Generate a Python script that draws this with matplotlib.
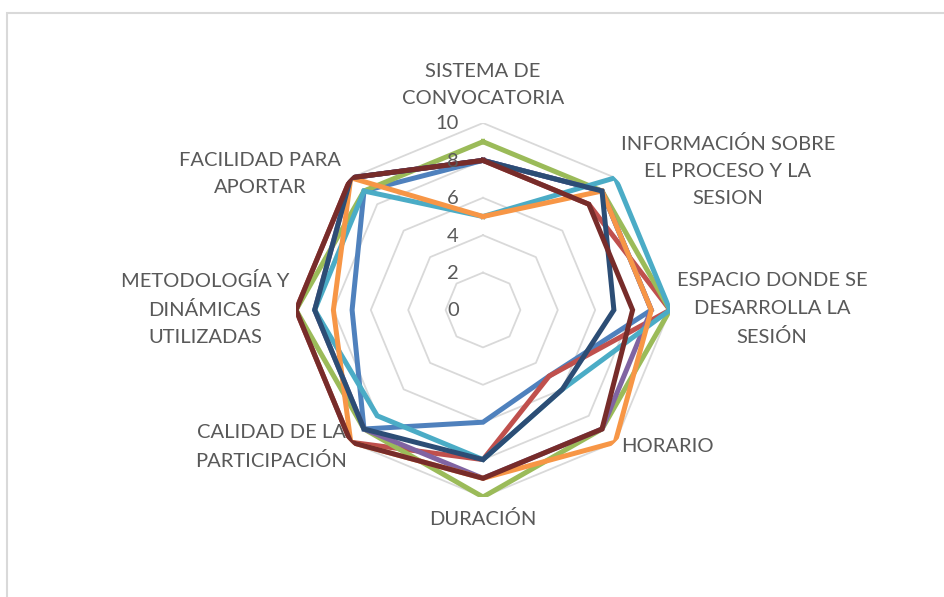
import numpy as np
import matplotlib.pyplot as plt
from matplotlib.patches import Rectangle

# categories clockwise from the top
categorias = ["SISTEMA DE\nCONVOCATORIA", "INFORMACIÓN SOBRE\nEL PROCESO Y LA\nSESION",
              "ESPACIO DONDE SE\nDESARROLLA LA\nSESIÓN", "HORARIO", "DURACIÓN",
              "CALIDAD DE LA\nPARTICIPACIÓN", "METODOLOGÍA Y\nDINÁMICAS\nUTILIZADAS",
              "FACILIDAD PARA\nAPORTAR"]

serie1 = [8, 9, 9, 5, 6, 9, 7, 9]
serie2 = [8, 8, 10, 5, 8, 10, 10, 10]
serie3 = [9, 9, 10, 9, 10, 9, 10, 9]
serie4 = [8, 9, 9, 9, 9, 9, 9, 10]
serie5 = [5, 10, 10, 6, 8, 8, 9, 9]
serie6 = [5, 9, 9, 10, 9, 10, 8, 10]
serie7 = [8, 9, 7, 6, 8, 9, 9, 10]
serie8 = [8, 8, 8, 9, 9, 10, 10, 10]
series = [serie1, serie2, serie3, serie4, serie5, serie6, serie7, serie8]
colores = ["#4F81BD", "#C0504D", "#9BBB59", "#8064A2", "#4BACC6", "#F79646", "#2C4D75", "#772C2A"]

escala = [0, 2, 4, 6, 8, 10]

plt.rcParams["font.family"] = ["Lato", "DejaVu Sans"]
gris = "#595959"

W, H = 945, 597
fig = plt.figure(figsize=(W / 100, H / 100), dpi=100)

# light frame around the chart area
fig.patches.append(Rectangle((7 / W, -0.1), 1.2, 1.1 - 12.5 / H, transform=fig.transFigure,
                             fill=False, edgecolor="#D9D9D9", linewidth=1.5))

cx, cy, R = 483, 310, 187
ax = fig.add_axes([(cx - R) / W, 1 - (cy + R) / H, 2 * R / W, 2 * R / H], projection="polar")
ax.set_theta_offset(np.pi / 2)
ax.set_theta_direction(-1)
ax.set_ylim(0, 10)
ax.grid(False)
ax.spines["polar"].set_visible(False)
ax.set_xticks([])
ax.set_yticks([])
ax.patch.set_alpha(0)

n = len(categorias)
ang = np.linspace(0, 2 * np.pi, n, endpoint=False)
ang_c = np.append(ang, ang[0])

# octagonal gridlines
for v in escala[1:]:
    ax.plot(ang_c, [v] * (n + 1), color="#D9D9D9", lw=1.3, zorder=1)

for vals, c in zip(series, colores):
    ax.plot(ang_c, vals + vals[:1], color=c, lw=3.6, solid_joinstyle="miter", zorder=3)

# value labels along the top axis
for v in escala:
    fig.text(459 / W, 1 - (cy + 1 - R * v / 10) / H, str(v), ha="right", va="center",
             fontsize=14.5, color=gris)

# category labels
pos = [(483, 85, "center"), (728, 171, "center"), (772, 309, "center"), (621, 446, "left"),
       (483, 519, "center"), (271, 447, "center"), (205, 309, "center"), (260, 174, "center")]
for txt, (x, y, ha) in zip(categorias, pos):
    fig.text(x / W, 1 - y / H, txt, ha=ha, va="center",
             multialignment="center", fontsize=14.5, color=gris, linespacing=1.75)

fig.savefig("out.png", dpi=100)
